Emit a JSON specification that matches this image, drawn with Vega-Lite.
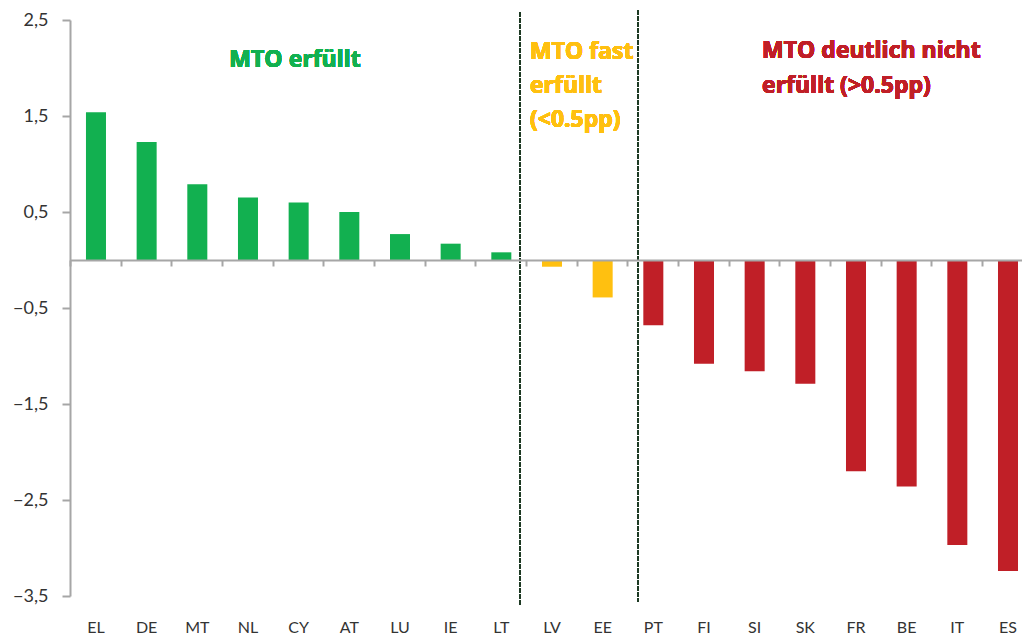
{
  "$schema": "https://vega.github.io/schema/vega-lite/v6.json",
  "width": 952,
  "height": 576,
  "autosize": "none",
  "padding": {"left": 70, "top": 20, "right": 0, "bottom": 41},
  "config": {"view": {"stroke": null}, "font": "Lato"},
  "data": {
    "values": [
      {"land": "EL", "wert": 1.54, "gruppe": "MTO erfüllt"},
      {"land": "DE", "wert": 1.23, "gruppe": "MTO erfüllt"},
      {"land": "MT", "wert": 0.79, "gruppe": "MTO erfüllt"},
      {"land": "NL", "wert": 0.65, "gruppe": "MTO erfüllt"},
      {"land": "CY", "wert": 0.60, "gruppe": "MTO erfüllt"},
      {"land": "AT", "wert": 0.50, "gruppe": "MTO erfüllt"},
      {"land": "LU", "wert": 0.27, "gruppe": "MTO erfüllt"},
      {"land": "IE", "wert": 0.17, "gruppe": "MTO erfüllt"},
      {"land": "LT", "wert": 0.08, "gruppe": "MTO erfüllt"},
      {"land": "LV", "wert": -0.07, "gruppe": "MTO fast erfüllt"},
      {"land": "EE", "wert": -0.39, "gruppe": "MTO fast erfüllt"},
      {"land": "PT", "wert": -0.68, "gruppe": "MTO deutlich nicht erfüllt"},
      {"land": "FI", "wert": -1.08, "gruppe": "MTO deutlich nicht erfüllt"},
      {"land": "SI", "wert": -1.16, "gruppe": "MTO deutlich nicht erfüllt"},
      {"land": "SK", "wert": -1.29, "gruppe": "MTO deutlich nicht erfüllt"},
      {"land": "FR", "wert": -2.20, "gruppe": "MTO deutlich nicht erfüllt"},
      {"land": "BE", "wert": -2.36, "gruppe": "MTO deutlich nicht erfüllt"},
      {"land": "IT", "wert": -2.97, "gruppe": "MTO deutlich nicht erfüllt"},
      {"land": "ES", "wert": -3.24, "gruppe": "MTO deutlich nicht erfüllt"}
    ]
  },
  "resolve": {"scale": {"x": "independent"}, "axis": {"x": "independent"}},
  "layer": [
    {
      "layer": [
        {
          "mark": {"type": "bar"},
          "encoding": {
            "x": {
              "field": "land",
              "type": "nominal",
              "sort": null,
              "scale": {"paddingInner": 0.605, "paddingOuter": 0.197, "align": 0.8},
              "axis": {
                "title": null,
                "orient": "bottom",
                "domain": false,
                "ticks": false,
                "tickSize": 0,
                "labelAngle": 0,
                "labelFontSize": 16,
                "labelColor": "#333333",
                "labelPadding": 23,
                "labelBaseline": "top"
              }
            },
            "y": {
              "field": "wert",
              "type": "quantitative",
              "scale": {"domain": [-3.5, 2.5], "nice": false, "zero": false},
              "axis": {
                "title": null,
                "values": [-3.5, -2.5, -1.5, -0.5, 0.5, 1.5, 2.5],
                "labelExpr": "replace(format(datum.value, '.1f'), '.', ',')",
                "grid": false,
                "domainColor": "#A6A6A6",
                "domainWidth": 2,
                "tickColor": "#A6A6A6",
                "tickWidth": 2,
                "tickSize": 8,
                "labelPadding": 14,
                "labelFontSize": 18,
                "labelColor": "#333333"
              }
            },
            "color": {
              "field": "gruppe",
              "type": "nominal",
              "scale": {
                "domain": ["MTO erfüllt", "MTO fast erfüllt", "MTO deutlich nicht erfüllt"],
                "range": ["#12B050", "#FFC010", "#C01F27"]
              },
              "legend": null
            }
          }
        },
        {
          "mark": {"type": "rule", "color": "#1E3A24", "strokeWidth": 1.6, "strokeDash": [4, 2]},
          "encoding": {
            "x": {"datum": "LT", "type": "nominal", "bandPosition": 1.43},
            "y": {"datum": 2.58, "type": "quantitative"},
            "y2": {"datum": -3.6}
          }
        },
        {
          "mark": {"type": "rule", "color": "#1E3A24", "strokeWidth": 1.6, "strokeDash": [4, 2]},
          "encoding": {
            "x": {"datum": "EE", "type": "nominal", "bandPosition": 2.27},
            "y": {"datum": 2.6, "type": "quantitative"},
            "y2": {"datum": -3.56}
          }
        },
        {
          "mark": {"type": "text", "text": "MTO erfüllt", "color": "#12B050", "font": "Open Sans", "fontWeight": "bold", "fontSize": 23, "align": "center", "baseline": "middle"},
          "encoding": {
            "x": {"datum": "CY", "type": "nominal", "bandPosition": 0.32},
            "y": {"datum": 2.08, "type": "quantitative"}
          }
        },
        {
          "mark": {"type": "text", "text": ["MTO fast", "erfüllt", "(<0.5pp)"], "lineHeight": 34, "color": "#FFC010", "font": "Open Sans", "fontWeight": "bold", "fontSize": 23, "align": "left", "baseline": "middle"},
          "encoding": {
            "x": {"datum": "LT", "type": "nominal", "bandPosition": 1.93},
            "y": {"datum": 2.17, "type": "quantitative"}
          }
        },
        {
          "mark": {"type": "text", "text": ["MTO deutlich nicht", "erfüllt (>0.5pp)"], "lineHeight": 35, "color": "#C01F27", "font": "Open Sans", "fontWeight": "bold", "fontSize": 23, "align": "left", "baseline": "middle"},
          "encoding": {
            "x": {"datum": "SI", "type": "nominal", "bandPosition": 0.87},
            "y": {"datum": 2.18, "type": "quantitative"}
          }
        }
      ]
    },
    {
      "mark": {"type": "rule", "opacity": 0},
      "encoding": {
        "x": {
          "field": "land",
          "type": "nominal",
          "sort": null,
          "scale": {"paddingInner": 0, "paddingOuter": 0, "range": [0, 962.5]},
          "axis": {
            "title": null,
            "orient": "bottom",
            "offset": -336,
            "zindex": 1,
            "labels": false,
            "domainColor": "#A6A6A6",
            "domainWidth": 2,
            "tickColor": "#A6A6A6",
            "tickWidth": 2,
            "tickSize": 6,
            "tickBand": "extent"
          }
        },
        "y": {"datum": 0, "type": "quantitative"}
      }
    }
  ]
}
